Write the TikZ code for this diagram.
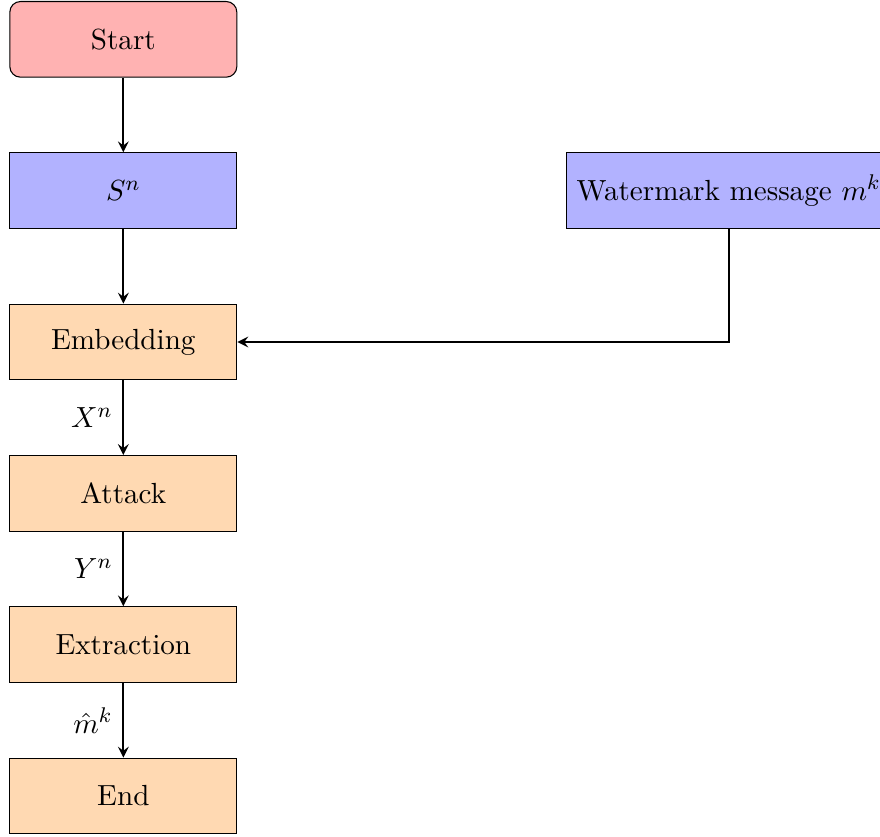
\documentclass[11pt,tikz,border=0pt]{standalone}
\usetikzlibrary{arrows}

\tikzset{
	startstop/.style={rectangle, rounded corners, minimum width=3cm, minimum height=1cm, text centered, draw=black, fill=red!30},
	io/.style={rectangle, minimum width=3cm, minimum height=1cm, text centered, draw=black, fill=blue!30},
	process/.style={rectangle, minimum width=3cm, minimum height=1cm, text centered, draw=black, fill=orange!30},
	arrow/.style={thick, ->, >=stealth}
}

\begin{document}
\begin{tikzpicture}
	\useasboundingbox (-1.63, -10.53) rectangle (10, 0.52);

	\node[startstop] (start) at (0, 0) {Start};
	\node[io] (src) at (0, -2) {$S^n$};
	\node[io] (msg) at (8, -2) {Watermark message $m^k$};
	\node[process] (embed) at (0, -4) {Embedding};
	\node[process] (attack) at (0, -6) {Attack};
	\node[process] (extract) at (0, -8) {Extraction};
	\node[process] (end) at (0, -10) {End};

	\draw[arrow] (start) -- (src);
	\draw[arrow] (src) -- (embed);
	\draw[arrow] (msg) |- (embed);
	\draw[arrow] (embed) -- node[left] {$X^n$} (attack);
	\draw[arrow] (attack) -- node[left] {$Y^n$} (extract);
	\draw[arrow] (extract) -- node[left] {$\hat{m}^k$} (end);
\end{tikzpicture}
\end{document}
